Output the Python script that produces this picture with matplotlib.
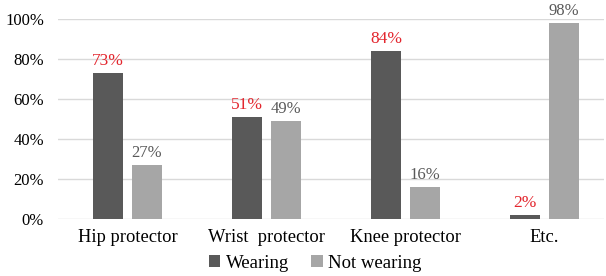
import matplotlib
matplotlib.use("Agg")
import matplotlib.pyplot as plt
import numpy as np

categories = ["Hip protector", "Wrist  protector", "Knee protector", "Etc."]
wearing = [73, 51, 84, 2]
not_wearing = [27, 49, 16, 98]

plt.rcParams["font.family"] = ["Liberation Serif", "DejaVu Serif"]

fig = plt.figure(figsize=(6.06, 2.76), dpi=100)
ax = fig.add_axes([58 / 606, 1 - 219 / 276, 546 / 606, 200 / 276])

x = np.arange(len(categories))
w = 0.216
off = 0.14
b1 = ax.bar(x - off, wearing, w, color="#595959", label="Wearing", zorder=3)
b2 = ax.bar(x + off, not_wearing, w, color="#a6a6a6", label="Not wearing", zorder=3)

for rect, v in zip(b1, wearing):
    ax.annotate(f"{v}%", (rect.get_x() + rect.get_width() / 2, v),
                xytext=(0, 3), textcoords="offset points", ha="center", va="bottom",
                color="#e3262e", fontsize=12.5)
for rect, v in zip(b2, not_wearing):
    ax.annotate(f"{v}%", (rect.get_x() + rect.get_width() / 2, v),
                xytext=(0, 3), textcoords="offset points", ha="center", va="bottom",
                color="#595959", fontsize=12)

ax.set_ylim(0, 100)
ax.set_xlim(-0.5, 3.43)
ax.set_yticks(range(0, 101, 20))
ax.set_yticklabels([f"{t}%" for t in range(0, 101, 20)], fontsize=12)
ax.set_xticks(x)
ax.set_xticklabels(categories, fontsize=13.3)
ax.tick_params(length=0, pad=10)
ax.tick_params(axis="x", pad=7)
ax.grid(axis="y", color="#d9d9d9", linewidth=1, zorder=0)
for s in ax.spines.values():
    s.set_visible(False)

fig.legend(loc="lower center", bbox_to_anchor=(0.52, -0.045), ncol=2, frameon=False,
           fontsize=13.5, handlelength=0.6, handleheight=0.6, handletextpad=0.3,
           columnspacing=1.2)

fig.savefig("out.png", dpi=100)
